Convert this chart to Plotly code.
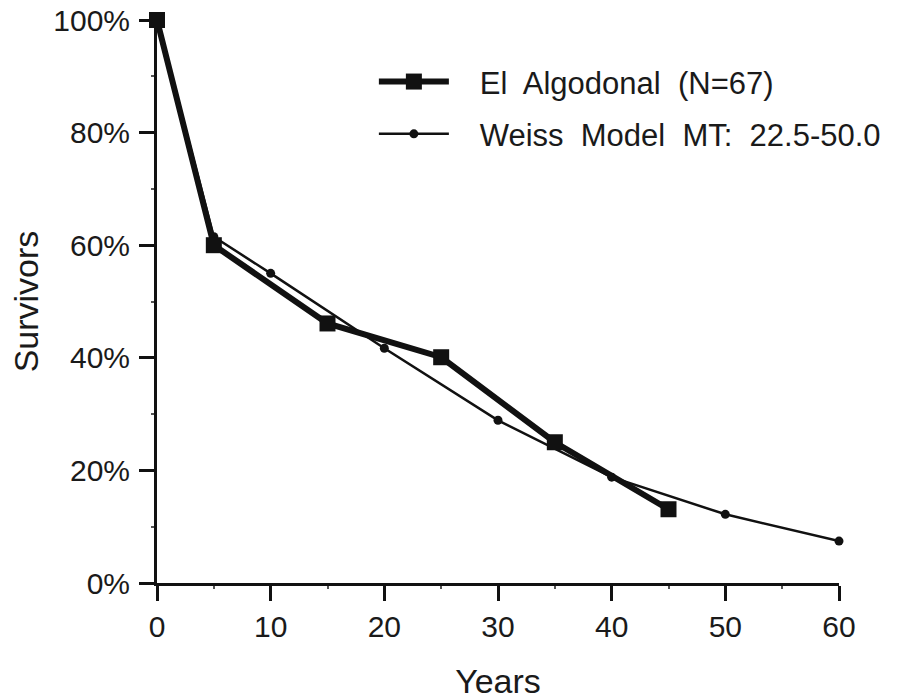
import plotly.graph_objects as go

years_algodonal = [0, 5, 15, 25, 35, 45]
survivors_algodonal = [100, 60, 46.1, 40.1, 25.0, 13.1]

years_weiss = [0, 5, 10, 20, 30, 40, 50, 60]
survivors_weiss = [100, 61.5, 55.0, 41.7, 28.9, 18.8, 12.2, 7.45]

x_ticks = [0, 10, 20, 30, 40, 50, 60]
y_ticks = [0, 20, 40, 60, 80, 100]
y_tick_labels = ["0%", "20%", "40%", "60%", "80%", "100%"]

FONT = "Liberation Sans, Arial, Helvetica, sans-serif"
PAD = "\u00a0\u00a0\u00a0"

fig = go.Figure()
fig.add_trace(go.Scatter(
    x=years_weiss, y=survivors_weiss, mode="lines+markers",
    name=PAD + "Weiss  Model  MT:  22.5-50.0",
    legendgroup="w", legendrank=2,
    line=dict(color="#111111", width=2.5),
    marker=dict(symbol="circle", size=9, color="#111111"),
    cliponaxis=False,
))
fig.add_trace(go.Scatter(
    x=years_algodonal, y=survivors_algodonal, mode="lines+markers",
    name=PAD + "El  Algodonal  (N=67)",
    legendgroup="a", legendrank=1,
    line=dict(color="#111111", width=6),
    marker=dict(symbol="square", size=16, color="#111111"),
    cliponaxis=False,
))

fig.update_layout(
    template="none",
    width=903, height=700,
    margin=dict(l=157, r=64, t=20, b=117, autoexpand=False),
    paper_bgcolor="white", plot_bgcolor="white",
    font=dict(family=FONT, size=30, color="#1a1a1a"),
    showlegend=True,
    legend=dict(
        x=0.318, y=0.938, xanchor="left", yanchor="top",
        traceorder="grouped",
        font=dict(size=31, family=FONT),
        bgcolor="rgba(0,0,0,0)",
        itemwidth=70,
        tracegroupgap=9,
    ),
    xaxis=dict(
        range=[0, 60], tickvals=x_ticks, automargin=False,
        showline=True, linecolor="#111111", linewidth=3,
        ticks="outside", ticklen=15, tickwidth=3, tickcolor="#111111",
        showgrid=False, zeroline=False,
        tickfont=dict(size=30),
        title=dict(text="Years", font=dict(size=34), standoff=34),
        minor=dict(tickvals=[5, 15, 25, 35, 45, 55], ticks="outside", ticklen=3, tickwidth=1.5, tickcolor="#555555"),
    ),
    yaxis=dict(
        range=[0, 100], tickvals=y_ticks, ticktext=y_tick_labels, automargin=False,
        showline=True, linecolor="#111111", linewidth=3,
        ticks="outside", ticklen=15, tickwidth=3, tickcolor="#111111",
        showgrid=False, zeroline=False,
        tickfont=dict(size=30), ticklabelstandoff=3,
        title=dict(text="Survivors", font=dict(size=34), standoff=5),
        minor=dict(tickvals=[10, 30, 50, 70, 90], ticks="outside", ticklen=3, tickwidth=1.5, tickcolor="#555555"),
    ),
)

fig.write_html("out.html", config={"displayModeBar": False},
               post_script="document.body.style.margin='0px';")
